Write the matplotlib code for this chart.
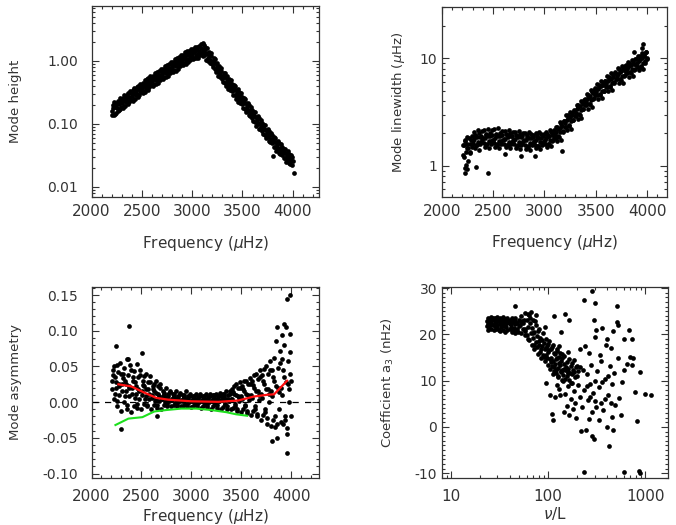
import matplotlib
matplotlib.use("Agg")
import matplotlib.pyplot as plt
from matplotlib.ticker import (FixedLocator, FixedFormatter, MultipleLocator,
                               LogLocator, NullFormatter)

plt.rcParams["font.family"] = ["DejaVu Sans"]
plt.rcParams["mathtext.fontset"] = "dejavusans"

W, H = 676, 525
INK = "#333333"

# ---- mode frequencies (uHz), two interleaved mode sets shared by the
# ---- three frequency panels
freq = [
    2203, 2213, 2222, 2231, 2242, 2251, 2260, 2271, 2280, 2291,
    2303, 2313, 2322, 2331, 2342, 2351, 2360, 2371, 2380, 2391,
    2403, 2413, 2422, 2431, 2442, 2451, 2460, 2471, 2480, 2491,
    2503, 2513, 2522, 2531, 2542, 2551, 2560, 2571, 2580, 2591,
    2603, 2613, 2622, 2631, 2642, 2651, 2660, 2671, 2680, 2691,
    2703, 2713, 2722, 2731, 2742, 2751, 2760, 2771, 2780, 2791,
    2803, 2813, 2822, 2831, 2842, 2851, 2860, 2871, 2880, 2891,
    2903, 2913, 2922, 2931, 2942, 2951, 2960, 2971, 2980, 2991,
    3003, 3013, 3022, 3031, 3042, 3051, 3060, 3071, 3080, 3091,
    3103, 3113, 3122, 3131, 3142, 3151, 3160, 3171, 3180, 3191,
    3203, 3213, 3222, 3231, 3242, 3251, 3260, 3271, 3280, 3291,
    3303, 3313, 3322, 3331, 3342, 3351, 3360, 3371, 3380, 3391,
    3403, 3413, 3422, 3431, 3442, 3451, 3460, 3471, 3480, 3491,
    3503, 3513, 3522, 3531, 3542, 3551, 3560, 3571, 3580, 3591,
    3603, 3613, 3622, 3631, 3642, 3651, 3660, 3671, 3680, 3691,
    3703, 3713, 3722, 3731, 3742, 3751, 3760, 3771, 3780, 3791,
    3803, 3813, 3822, 3831, 3842, 3851, 3860, 3871, 3880, 3891,
    3903, 3913, 3922, 3931, 3942, 3951, 3960, 3971, 3980, 3991,
]
freq2 = [
    2208, 2217, 2227, 2236, 2247, 2256, 2266, 2276, 2286, 2296,
    2308, 2317, 2327, 2336, 2347, 2356, 2366, 2376, 2386, 2396,
    2408, 2417, 2427, 2436, 2447, 2456, 2466, 2476, 2486, 2496,
    2508, 2517, 2527, 2536, 2547, 2556, 2566, 2576, 2586, 2596,
    2608, 2617, 2627, 2636, 2647, 2656, 2666, 2676, 2686, 2696,
    2708, 2717, 2727, 2736, 2747, 2756, 2766, 2776, 2786, 2796,
    2808, 2817, 2827, 2836, 2847, 2856, 2866, 2876, 2886, 2896,
    2908, 2917, 2927, 2936, 2947, 2956, 2966, 2976, 2986, 2996,
    3008, 3017, 3027, 3036, 3047, 3056, 3066, 3076, 3086, 3096,
    3108, 3117, 3127, 3136, 3147, 3156, 3166, 3176, 3186, 3196,
    3208, 3217, 3227, 3236, 3247, 3256, 3266, 3276, 3286, 3296,
    3308, 3317, 3327, 3336, 3347, 3356, 3366, 3376, 3386, 3396,
    3408, 3417, 3427, 3436, 3447, 3456, 3466, 3476, 3486, 3496,
    3508, 3517, 3527, 3536, 3547, 3556, 3566, 3576, 3586, 3596,
    3608, 3617, 3627, 3636, 3647, 3656, 3666, 3676, 3686, 3696,
    3708, 3717, 3727, 3736, 3747, 3756, 3766, 3776, 3786, 3796,
    3808, 3817, 3827, 3836, 3847, 3856, 3866, 3876, 3886, 3896,
    3908, 3917, 3927, 3936, 3947, 3956, 3966, 3976, 3986, 3996,
]

height = [
    0.160, 0.200, 0.140, 0.185, 0.150, 0.215, 0.160, 0.205, 0.175, 0.230,
    0.215, 0.260, 0.190, 0.250, 0.220, 0.290, 0.205, 0.270, 0.250, 0.310,
    0.280, 0.340, 0.250, 0.330, 0.290, 0.390, 0.265, 0.355, 0.330, 0.405,
    0.370, 0.450, 0.330, 0.430, 0.375, 0.510, 0.345, 0.460, 0.430, 0.520,
    0.480, 0.585, 0.430, 0.560, 0.490, 0.665, 0.450, 0.595, 0.555, 0.680,
    0.625, 0.755, 0.560, 0.725, 0.635, 0.860, 0.580, 0.770, 0.720, 0.880,
    0.800, 0.975, 0.720, 0.935, 0.820, 1.110, 0.745, 1.000, 0.930, 1.130,
    1.04, 1.25, 0.92, 1.20, 1.05, 1.42, 0.95, 1.27, 1.18, 1.45,
    1.30, 1.56, 1.13, 1.46, 1.25, 1.67, 1.11, 1.46, 1.35, 1.62,
    1.50, 1.76, 1.25, 1.56, 1.27, 1.62, 1.01, 1.23, 1.05, 1.18,
    0.985, 1.10, 0.750, 0.910, 0.730, 0.925, 0.575, 0.705, 0.615, 0.690,
    0.572, 0.645, 0.445, 0.545, 0.445, 0.565, 0.355, 0.440, 0.385, 0.435,
    0.365, 0.410, 0.285, 0.345, 0.280, 0.355, 0.225, 0.275, 0.240, 0.272,
    0.227, 0.255, 0.175, 0.213, 0.172, 0.218, 0.137, 0.168, 0.147, 0.166,
    0.138, 0.156, 0.107, 0.131, 0.106, 0.134, 0.084, 0.104, 0.091, 0.103,
    0.086, 0.097, 0.067, 0.081, 0.066, 0.084, 0.053, 0.066, 0.058, 0.066,
    0.0543, 0.0614, 0.0425, 0.0520, 0.0424, 0.0540, 0.0342, 0.0422, 0.0372, 0.0423,
    0.0356, 0.0405, 0.0284, 0.0350, 0.0289, 0.0371, 0.0237, 0.0297, 0.0264, 0.0303,
]
height2 = [
    0.138, 0.176, 0.220, 0.145, 0.198, 0.176, 0.235, 0.169, 0.256, 0.187,
    0.180, 0.229, 0.286, 0.189, 0.258, 0.229, 0.307, 0.220, 0.334, 0.243,
    0.234, 0.299, 0.373, 0.246, 0.336, 0.298, 0.400, 0.287, 0.435, 0.317,
    0.310, 0.395, 0.492, 0.325, 0.444, 0.394, 0.528, 0.379, 0.575, 0.419,
    0.402, 0.512, 0.639, 0.422, 0.576, 0.511, 0.685, 0.492, 0.746, 0.543,
    0.519, 0.662, 0.825, 0.545, 0.743, 0.660, 0.885, 0.636, 0.963, 0.702,
    0.670, 0.854, 1.065, 0.703, 0.959, 0.852, 1.142, 0.820, 1.243, 0.906,
    0.861, 1.093, 1.360, 0.896, 1.218, 1.079, 1.441, 1.032, 1.560, 1.134,
    1.078, 1.360, 1.674, 1.095, 1.473, 1.295, 1.715, 1.218, 1.823, 1.312,
    1.191, 1.429, 1.668, 1.037, 1.315, 1.100, 1.377, 0.926, 1.313, 0.896,
    0.785, 0.929, 1.070, 0.658, 0.820, 0.678, 0.838, 0.555, 0.776, 0.522,
    0.459, 0.549, 0.637, 0.395, 0.498, 0.415, 0.518, 0.346, 0.489, 0.332,
    0.292, 0.348, 0.404, 0.249, 0.314, 0.261, 0.324, 0.217, 0.305, 0.206,
    0.181, 0.216, 0.249, 0.154, 0.193, 0.160, 0.199, 0.132, 0.186, 0.126,
    0.111, 0.132, 0.153, 0.094, 0.119, 0.099, 0.123, 0.082, 0.116, 0.078,
    0.0688, 0.0821, 0.0954, 0.0591, 0.0744, 0.0619, 0.0772, 0.0516, 0.0728, 0.0493,
    0.0436, 0.0523, 0.0608, 0.0378, 0.0478, 0.0399, 0.0499, 0.0335, 0.0474, 0.0322,
    0.0287, 0.0345, 0.0404, 0.0253, 0.0321, 0.0270, 0.0339, 0.0229, 0.0326, 0.0223,
]
height_extra_f = [3110, 3805, 3998, 4012]
height_extra = [1.92, 0.031, 0.026, 0.0168]

linewidth = [
    1.55, 1.20, 1.75, 0.95, 1.45, 1.85, 1.10, 1.60, 1.35, 1.90,
    1.70, 2.05, 1.45, 1.90, 1.55, 2.15, 1.40, 1.85, 1.65, 2.10,
    1.80, 2.15, 1.50, 1.95, 1.60, 2.20, 1.45, 1.90, 1.70, 2.15,
    1.75, 2.20, 1.50, 1.95, 1.60, 2.25, 1.45, 1.90, 1.70, 2.10,
    1.78, 2.10, 1.48, 1.95, 1.55, 2.15, 1.45, 1.90, 1.65, 2.05,
    1.75, 2.05, 1.45, 1.90, 1.55, 2.10, 1.42, 1.85, 1.62, 2.00,
    1.72, 2.00, 1.42, 1.85, 1.50, 2.05, 1.40, 1.80, 1.60, 1.95,
    1.70, 2.00, 1.45, 1.85, 1.52, 2.05, 1.42, 1.82, 1.62, 1.98,
    1.75, 2.05, 1.50, 1.90, 1.60, 2.15, 1.52, 1.95, 1.75, 2.15,
    1.92, 2.30, 1.70, 2.20, 1.85, 2.55, 1.75, 2.35, 2.05, 2.60,
    2.50, 2.95, 2.15, 2.80, 2.35, 3.15, 2.20, 2.95, 2.65, 3.30,
    3.10, 3.70, 2.70, 3.50, 2.95, 4.00, 2.80, 3.75, 3.35, 4.20,
    3.90, 4.65, 3.40, 4.40, 3.75, 5.05, 3.55, 4.75, 4.25, 5.30,
    4.90, 5.75, 4.20, 5.40, 4.55, 6.10, 4.25, 5.65, 5.00, 6.20,
    5.80, 6.85, 5.00, 6.40, 5.40, 7.25, 5.10, 6.75, 6.00, 7.40,
    6.90, 8.10, 5.90, 7.55, 6.35, 8.50, 5.90, 7.80, 6.95, 8.60,
    7.90, 9.30, 6.75, 8.60, 7.25, 9.70, 6.80, 8.95, 8.00, 9.90,
    9.00, 10.6, 7.80, 9.90, 8.40, 11.3, 8.00, 10.5, 9.40, 11.6,
]
linewidth2 = [
    1.25, 1.55, 1.70, 1.35, 1.60, 1.45, 1.80, 1.30, 1.75, 1.50,
    1.60, 1.78, 1.95, 1.55, 1.85, 1.68, 2.00, 1.58, 1.90, 1.72,
    1.62, 1.80, 1.98, 1.56, 1.88, 1.70, 2.02, 1.60, 1.92, 1.74,
    1.62, 1.80, 1.98, 1.56, 1.88, 1.70, 2.02, 1.60, 1.92, 1.74,
    1.60, 1.78, 1.96, 1.55, 1.86, 1.68, 2.00, 1.58, 1.90, 1.72,
    1.58, 1.76, 1.94, 1.53, 1.84, 1.66, 1.98, 1.56, 1.88, 1.70,
    1.56, 1.74, 1.92, 1.52, 1.82, 1.64, 1.96, 1.55, 1.86, 1.68,
    1.56, 1.74, 1.92, 1.52, 1.82, 1.65, 1.96, 1.56, 1.88, 1.70,
    1.60, 1.80, 1.98, 1.58, 1.90, 1.74, 2.06, 1.70, 2.08, 1.82,
    1.80, 2.05, 2.30, 1.90, 2.25, 2.05, 2.45, 2.10, 2.60, 2.30,
    2.30, 2.65, 2.95, 2.40, 2.85, 2.60, 3.10, 2.65, 3.25, 2.90,
    2.90, 3.35, 3.70, 3.05, 3.60, 3.30, 3.90, 3.35, 4.10, 3.70,
    3.65, 4.15, 4.60, 3.80, 4.50, 4.10, 4.85, 4.15, 5.10, 4.60,
    4.55, 5.15, 5.70, 4.65, 5.50, 5.00, 5.90, 5.00, 6.20, 5.45,
    5.40, 6.10, 6.75, 5.50, 6.50, 5.90, 6.95, 5.90, 7.30, 6.45,
    6.40, 7.20, 8.00, 6.50, 7.60, 6.90, 8.10, 6.85, 8.50, 7.45,
    7.30, 8.25, 9.15, 7.40, 8.70, 7.95, 9.30, 7.85, 9.80, 8.60,
    8.35, 9.45, 10.5, 8.50, 10.0, 9.15, 10.8, 9.10, 11.4, 9.90,
]
linewidth_extra_f = [2226, 2236, 2248, 2330, 2447, 2612, 2773, 2908, 3172,
                     3870, 3945, 3962, 3998]
linewidth_extra = [0.86, 1.02, 0.93, 0.97, 0.85, 1.29, 1.22, 1.24, 1.38,
                   11.5, 12.4, 13.6, 10.0]

asymmetry = [
    0.030, 0.045, 0.005, 0.035, 0.020, 0.052, -0.005, 0.025, 0.010, 0.040,
    0.025, 0.040, 0.000, 0.030, 0.015, 0.060, -0.010, 0.022, 0.008, 0.045,
    0.020, 0.035, -0.005, 0.028, 0.012, 0.053, -0.008, 0.018, 0.005, 0.038,
    0.015, 0.030, -0.003, 0.022, 0.008, 0.040, -0.006, 0.018, 0.004, 0.028,
    0.010, 0.022, -0.004, 0.016, 0.004, 0.030, -0.008, 0.012, 0.002, 0.020,
    0.005, 0.015, -0.004, 0.010, 0.000, 0.020, -0.006, 0.008, 0.002, 0.014,
    0.004, 0.012, -0.004, 0.008, -0.001, 0.016, -0.006, 0.006, 0.001, 0.011,
    0.003, 0.010, -0.005, 0.007, -0.002, 0.015, -0.006, 0.005, 0.000, 0.009,
    0.002, 0.009, -0.005, 0.006, -0.002, 0.011, -0.006, 0.004, 0.000, 0.008,
    0.002, 0.009, -0.005, 0.006, -0.003, 0.011, -0.007, 0.004, 0.000, 0.008,
    0.002, 0.010, -0.006, 0.006, -0.003, 0.012, -0.008, 0.004, 0.001, 0.009,
    0.003, 0.012, -0.007, 0.008, -0.003, 0.015, -0.010, 0.005, 0.001, 0.012,
    0.005, 0.018, -0.008, 0.012, -0.003, 0.025, -0.012, 0.008, 0.002, 0.020,
    0.008, 0.022, -0.010, 0.015, -0.004, 0.030, -0.015, 0.010, 0.003, 0.025,
    0.010, 0.030, -0.012, 0.020, -0.005, 0.040, -0.020, 0.015, 0.003, 0.035,
    0.012, 0.038, -0.018, 0.025, -0.010, 0.050, -0.030, 0.018, 0.000, 0.045,
    0.015, 0.045, -0.025, 0.030, -0.035, 0.085, -0.050, 0.020, -0.010, 0.055,
    0.020, 0.060, -0.030, 0.035, -0.020, 0.105, -0.045, 0.025, 0.000, 0.070,
]
asymmetry2 = [
    0.018, 0.038, 0.050, 0.012, 0.028, 0.002, 0.042, 0.022, 0.055, -0.012,
    0.015, 0.034, 0.048, 0.008, 0.026, -0.004, 0.038, 0.020, 0.052, -0.014,
    0.012, 0.030, 0.044, 0.006, 0.022, -0.002, 0.035, 0.016, 0.045, -0.010,
    0.010, 0.024, 0.036, 0.004, 0.018, -0.004, 0.028, 0.012, 0.036, -0.010,
    0.006, 0.018, 0.026, 0.002, 0.013, -0.004, 0.022, 0.008, 0.025, -0.010,
    0.004, 0.008, 0.013, 0.000, 0.006, -0.002, 0.011, 0.003, 0.016, -0.006,
    0.003, 0.006, 0.011, -0.001, 0.004, -0.003, 0.009, 0.002, 0.013, -0.006,
    0.002, 0.005, 0.010, -0.002, 0.004, -0.003, 0.008, 0.001, 0.012, -0.007,
    0.002, 0.004, 0.009, -0.002, 0.003, -0.003, 0.007, 0.001, 0.012, -0.008,
    0.002, 0.004, 0.009, -0.002, 0.003, -0.004, 0.007, 0.001, 0.011, -0.010,
    0.002, 0.005, 0.010, -0.002, 0.004, -0.004, 0.008, 0.001, 0.013, -0.009,
    0.003, 0.006, 0.012, -0.002, 0.005, -0.005, 0.010, 0.002, 0.016, -0.010,
    0.004, 0.014, 0.022, -0.005, 0.010, -0.010, 0.020, 0.006, 0.028, -0.014,
    0.005, 0.018, 0.030, -0.006, 0.012, -0.012, 0.026, 0.008, 0.034, -0.018,
    0.006, 0.024, 0.038, -0.010, 0.015, -0.016, 0.032, 0.010, 0.045, -0.025,
    0.006, 0.030, 0.046, -0.014, 0.018, -0.022, 0.040, 0.012, 0.058, -0.034,
    0.008, 0.035, 0.062, -0.020, 0.022, -0.030, 0.048, 0.014, 0.072, -0.028,
    0.010, 0.045, 0.080, -0.025, 0.028, -0.036, 0.058, 0.018, 0.095, -0.020,
]
asym_extra_f = [2250, 2300, 2362, 2380, 2510, 2660, 3807, 3860, 3905, 3925,
                3957, 3960, 3985, 3990, 3998]
asym_extra = [0.078, -0.037, 0.060, 0.107, 0.069, -0.020, -0.054, 0.105,
              0.094, 0.110, -0.071, 0.145, 0.150, 0.040, 0.030]

# smoothed asymmetry curves
red_f = [2270, 2400, 2520, 2650, 2770, 3000, 3270, 3470, 3630, 3770, 3830, 3960]
red_a = [0.025, 0.022, 0.014, 0.006, 0.0035, 0.0012, 0.0005, 0.0023, 0.008,
         0.0105, 0.011, 0.030]
green_f = [2240, 2370, 2510, 2630, 2750, 2900, 3050, 3200, 3350, 3450, 3560]
green_a = [-0.032, -0.023, -0.021, -0.013, -0.011, -0.009, -0.009, -0.011,
           -0.014, -0.017, -0.019]

# ---- a3 coefficient vs nu/L
core_nl = [
    23.5, 23.5, 24, 24, 24.5, 25, 25, 25.5, 26, 26,
    26.5, 27, 27, 27.5, 28, 28, 28.5, 29, 29, 29.5,
    30, 30, 31, 31, 31.5, 32, 32, 33, 33, 33.5,
    34, 34, 35, 35, 36, 36, 37, 37, 38, 38,
    39, 40, 40, 41, 42, 42, 43, 44, 44, 45,
    46, 46, 47, 48, 49, 50, 50, 52, 53, 55,
    56, 58,
    24, 26, 28, 30, 32, 34, 36, 38, 40, 43,
    45, 48, 51, 54, 25, 29, 33, 37, 41, 47,
]
core_a3 = [
    22.8, 21.8, 23.5, 22.2, 21.3, 23.0, 22.0, 23.8, 22.5, 21.2,
    23.2, 23.5, 22.0, 21.0, 22.8, 21.8, 23.6, 22.4, 21.2, 23.0,
    23.7, 22.0, 22.8, 21.0, 23.4, 22.2, 20.8, 23.2, 21.6, 22.5,
    23.8, 21.0, 22.8, 21.8, 23.3, 20.6, 22.4, 21.5, 23.6, 21.0,
    22.5, 23.2, 21.2, 22.0, 23.5, 20.5, 22.6, 21.4, 23.0, 20.2,
    22.2, 23.6, 21.0, 22.4, 20.6, 21.8, 23.2, 20.4, 22.6, 21.2,
    23.0, 19.8,
    21.0, 23.0, 22.2, 21.4, 23.6, 22.2, 22.0, 22.8, 22.4, 21.0,
    22.8, 21.2, 22.0, 22.8, 22.6, 23.4, 22.6, 23.0, 21.4, 20.8,
]
band_nl = [
    52, 55, 57, 58, 60, 60, 62, 63, 64, 65,
    66, 67, 68, 68, 70, 70, 72, 72, 74, 75,
    76, 77, 78, 80, 80, 82, 83, 85, 86, 88,
    88, 90, 92, 93, 95, 96, 98, 100, 100, 102,
    104, 105, 107, 108, 110, 112, 113, 115, 117, 118,
    120, 122, 124, 125, 127, 130, 132, 134, 136, 138,
    140, 143, 145, 148, 150, 155, 158, 160, 165, 170,
    175, 180,
    58, 62, 65, 69, 71, 73, 78, 81, 84, 87,
    91, 94, 97, 99, 103, 106, 109, 111, 114, 116,
    119, 121, 123, 126, 129, 131, 135, 139, 142, 146,
    152, 157, 163, 168, 172, 185, 195, 205, 62, 75,
]
band_a3 = [
    24.0, 22.5, 20.8, 24.6, 23.0, 19.8, 21.6, 24.2, 18.8, 22.4,
    20.2, 24.8, 17.8, 21.4, 19.2, 23.2, 16.8, 20.6, 18.4, 22.0,
    17.2, 19.6, 15.8, 21.2, 17.8, 16.2, 19.2, 14.8, 17.4, 20.2,
    15.6, 18.2, 16.8, 14.2, 19.0, 15.6, 17.4, 13.4, 16.2, 18.6,
    14.6, 12.6, 16.8, 15.0, 13.2, 17.6, 14.2, 12.0, 15.8, 13.6,
    11.6, 16.4, 14.8, 12.8, 10.8, 15.2, 13.4, 11.8, 14.2, 12.4,
    15.8, 11.2, 13.6, 12.2, 10.4, 14.0, 11.8, 12.6, 10.2, 13.2,
    11.4, 12.2,
    21.2, 19.0, 23.6, 20.4, 17.6, 22.8, 20.8, 18.6, 16.8, 18.8,
    15.2, 17.0, 14.8, 18.0, 16.6, 14.0, 17.2, 11.4, 16.0, 13.0,
    14.6, 12.2, 16.8, 11.0, 13.8, 16.0, 12.0, 14.8, 10.0, 12.6,
    13.0, 11.0, 14.6, 11.6, 9.6, 11.8, 13.0, 12.0, 24.4, 24.2,
]
sparse_nl = [
    45, 93, 115, 135, 148, 162, 231, 285, 296, 302,
    307, 355, 403, 443, 461, 508, 516, 520, 601, 734,
    748, 731, 601, 890, 790, 1000, 1140, 830, 95, 105,
    110, 113, 118, 122, 128, 132, 140, 145, 150, 155,
    160, 165, 170, 175, 178, 185, 190, 195, 200, 205,
    210, 215, 220, 225, 232, 240, 245, 250, 255, 262,
    268, 275, 280, 285, 290, 295, 300, 305, 312, 320,
    330, 340, 350, 370, 380, 390, 400, 410, 420, 430,
    440, 455, 470, 480, 490, 525, 540, 560, 575, 640,
    680, 700, 235, 610, 860, 890, 130, 160, 185, 200,
    210, 190, 230, 250, 270, 350, 380, 410, 330, 360,
    450, 260, 300, 160, 175, 145,
]
sparse_a3 = [
    26.1, 21.6, 24.0, 20.6, 24.3, 23.2, 27.4, 29.4, 23.1, 26.7,
    20.9, 21.3, 19.1, 17.0, 20.7, 26.1, 22.7, 22.1, 19.1, 18.9,
    14.8, 13.4, 12.3, 11.9, 7.5, 7.2, 6.8, 1.2, 9.5, 7.0,
    2.8, 1.5, 6.5, 9.0, 8.2, 6.8, 10.2, 3.2, 7.2, 4.5,
    8.8, 2.6, 6.0, 9.6, 3.8, 7.8, 5.2, 2.0, 11.0, 9.0,
    6.4, 13.0, -0.8, 4.2, 8.0, 17.5, -0.7, 11.4, 5.8, 16.0,
    9.2, 13.4, 3.2, -2.0, 7.4, -2.6, 10.0, 19.5, 4.4, 12.0,
    8.6, 15.6, 5.2, 3.6, 10.4, 17.6, 0.0, 7.0, -4.2, 13.2,
    5.2, 9.2, -0.6, 11.6, 4.8, 14.8, 6.2, 2.5, 9.8, 13.6,
    21.0, 15.2, -9.7, -9.8, -9.6, -10.0, 17.5, 16.2, 14.5, 13.2,
    16.8, 10.8, 12.4, 8.8, 6.4, 14.2, 6.0, 11.0, 1.4, 9.8,
    2.2, 1.8, 5.6, 11.6, 13.8, 15.4,
]

fig = plt.figure(figsize=(W / 100, H / 100), dpi=100)
fig.patch.set_facecolor("white")


def panel(left, top, right, bottom, ypad, xpad=5):
    ax = fig.add_axes([left / W, 1 - bottom / H, (right - left) / W, (bottom - top) / H])
    ax.tick_params(which="both", direction="in", top=True, right=True,
                   width=0.8, color=INK, labelcolor=INK)
    ax.tick_params(which="major", length=5)
    ax.tick_params(which="minor", length=2.5)
    ax.tick_params(axis="x", labelsize=11, pad=xpad)
    ax.tick_params(axis="y", labelsize=10, pad=ypad)
    for s in ax.spines.values():
        s.set_linewidth(0.9)
        s.set_color(INK)
    return ax


def dots(ax, x, y):
    ax.plot(x, y, "o", ms=3.4, mfc="black", mec="none")


def labels(ax, xl, yl, xy_y, yx):
    ax.set_xlabel(xl, fontsize=11, color=INK)
    ax.set_ylabel(yl, fontsize=9.5, color=INK)
    ax.xaxis.set_label_coords(0.5, xy_y)
    ax.xaxis.label.set_va("center")
    ax.yaxis.set_label_coords(yx, 0.5)
    ax.yaxis.label.set_va("center")


FREQ_LABEL = r"Frequency ($\mu$Hz)"
freq_ticks = [2000, 2500, 3000, 3500, 4000]

# top left: mode height
ax1 = panel(91.5, 5.7, 319, 196.7, 9.5)
dots(ax1, freq, height)
dots(ax1, freq2, height2)
dots(ax1, height_extra_f, height_extra)
ax1.set_yscale("log")
ax1.set_xlim(2000, 4260)
ax1.set_ylim(0.007, 7.5)
ax1.xaxis.set_major_locator(FixedLocator(freq_ticks))
ax1.xaxis.set_minor_locator(MultipleLocator(100))
ax1.yaxis.set_major_locator(FixedLocator([0.01, 0.1, 1.0]))
ax1.yaxis.set_major_formatter(FixedFormatter(["0.01", "0.10", "1.00"]))
ax1.yaxis.set_minor_locator(LogLocator(base=10, subs=range(2, 10)))
ax1.yaxis.set_minor_formatter(NullFormatter())
labels(ax1, FREQ_LABEL, "Mode height", -0.244, -0.332)

# top right: linewidth
ax2 = panel(441.7, 7.3, 666.7, 196.7, 3.4)
dots(ax2, freq, linewidth)
dots(ax2, freq2, linewidth2)
dots(ax2, linewidth_extra_f, linewidth_extra)
ax2.set_yscale("log")
ax2.set_xlim(2000, 4190)
ax2.set_ylim(0.514, 30)
ax2.xaxis.set_major_locator(FixedLocator(freq_ticks))
ax2.xaxis.set_minor_locator(MultipleLocator(100))
ax2.yaxis.set_major_locator(FixedLocator([1, 10]))
ax2.yaxis.set_major_formatter(FixedFormatter(["1", "10"]))
ax2.yaxis.set_minor_locator(LogLocator(base=10, subs=range(2, 10)))
ax2.yaxis.set_minor_formatter(NullFormatter())
labels(ax2, FREQ_LABEL, r"Mode linewidth ($\mu$Hz)", -0.244, -0.194)

# bottom left: asymmetry
ax3 = panel(91.5, 286.7, 319, 478.3, 9.5, xpad=7.5)
ax3.axhline(0, color="black", lw=0.9, ls=(0, (5, 5)))
dots(ax3, freq, asymmetry)
dots(ax3, freq2, asymmetry2)
dots(ax3, asym_extra_f, asym_extra)
ax3.plot(red_f, red_a, color="#ff1010", lw=1.6)
ax3.plot(green_f, green_a, color="#1ee01e", lw=1.5)
ax3.set_xlim(2000, 4280)
ax3.set_ylim(-0.1066, 0.1617)
ax3.xaxis.set_major_locator(FixedLocator(freq_ticks))
ax3.xaxis.set_minor_locator(MultipleLocator(100))
ax3.yaxis.set_major_locator(FixedLocator([-0.10, -0.05, 0.0, 0.05, 0.10, 0.15]))
ax3.yaxis.set_major_formatter(FixedFormatter(["-0.10", "-0.05", "0.00", "0.05", "0.10", "0.15"]))
ax3.yaxis.set_minor_locator(MultipleLocator(0.01))
labels(ax3, FREQ_LABEL, "Mode asymmetry", -0.2, -0.332)

# bottom right: a3 coefficient
ax4 = panel(441.7, 286.7, 667.7, 478.3, 3.4, xpad=7.5)
dots(ax4, core_nl, core_a3)
dots(ax4, band_nl, band_a3)
dots(ax4, sparse_nl, sparse_a3)
ax4.set_xscale("log")
ax4.set_xlim(8.0, 1700)
ax4.set_ylim(-11.1, 30.3)
ax4.xaxis.set_major_locator(FixedLocator([10, 100, 1000]))
ax4.xaxis.set_major_formatter(FixedFormatter(["10", "100", "1000"]))
ax4.xaxis.set_minor_locator(LogLocator(base=10, subs=range(2, 10)))
ax4.xaxis.set_minor_formatter(NullFormatter())
ax4.yaxis.set_major_locator(FixedLocator([-10, 0, 10, 20, 30]))
ax4.yaxis.set_major_formatter(FixedFormatter(["-10", "0", "10", "20", "30"]))
ax4.yaxis.set_minor_locator(MultipleLocator(1))
labels(ax4, r"$\nu$/L", r"Coefficient a$_3$ (nHz)", -0.185, -0.238)

fig.savefig("out.png", dpi=100, facecolor="white")
